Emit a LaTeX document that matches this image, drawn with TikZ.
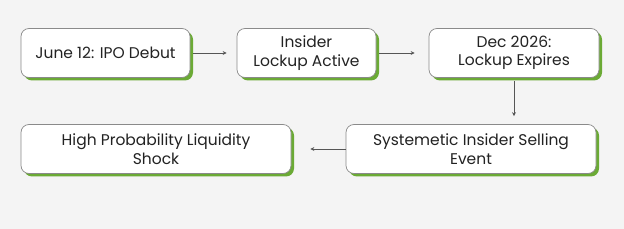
\documentclass[tikz,border=0pt]{standalone}
\usepackage{fontspec}
\setmainfont{Poppins}
\usetikzlibrary{arrows.meta,shadows}
\definecolor{bgc}{HTML}{F4F4F4}
\definecolor{shade}{HTML}{6BAA35}
\definecolor{edge}{HTML}{8A8A8A}
\definecolor{txt}{HTML}{222222}
\definecolor{arr}{HTML}{555555}
\begin{document}
\begin{tikzpicture}[x=1pt,y=1pt,
  box/.style={draw=edge, line width=0.7pt, fill=white, rounded corners=8pt,
    minimum height=49pt, inner sep=2pt, align=center, text=txt,
    font=\fontsize{15.5}{18.5}\selectfont,
    drop shadow={shadow xshift=3pt, shadow yshift=-3pt, fill=shade, opacity=1}},
  conn/.style={draw=arr, line width=0.8pt, -{Stealth[length=4pt,width=4pt]}}]
\fill[bgc] (0,0) rectangle (624,229);
\useasboundingbox (0,0) rectangle (624,229);
\node[box, minimum width=169pt] (b1) at (105.5,176) {June 12: IPO Debut};
\node[box, minimum width=139pt] (b2) at (306.5,176) {Insider\\Lockup Active};
\node[box, minimum width=170pt] (b3) at (514,176) {Dec 2026:\\Lockup Expires};
\node[box, minimum width=250pt] (b4) at (471,80) {Systemetic Insider Selling\\Event};
\node[box, minimum width=270pt] (b5) at (156,80) {High Probability Liquidity\\Shock};
\draw[conn, shorten <=3pt, shorten >=10pt] (b1.east) -- (b2.west);
\draw[conn, shorten <=3pt, shorten >=14pt] (b2.east) -- (b3.west);
\draw[conn, shorten <=3pt, shorten >=8pt] (b3.south) -- (b3.south |- b4.north);
\draw[conn, shorten >=19pt] (b4.west) -- (b5.east);
\end{tikzpicture}
\end{document}
